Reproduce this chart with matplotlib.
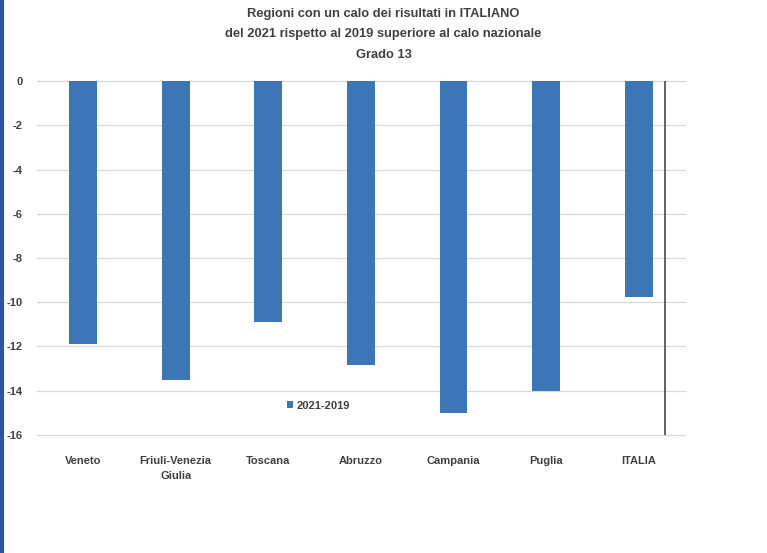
import matplotlib
matplotlib.use('Agg')
import matplotlib.pyplot as plt
from matplotlib.lines import Line2D

regions = ['Veneto', 'Friuli-Venezia\nGiulia', 'Toscana', 'Abruzzo', 'Campania', 'Puglia', 'ITALIA']
diff_2021_2019 = [-11.9, -13.5, -10.9, -12.85, -15.0, -14.0, -9.75]
yticks = [0, -2, -4, -6, -8, -10, -12, -14, -16]

plt.rcParams['font.family'] = ['Liberation Sans', 'DejaVu Sans']
txt = '#404040'

fig = plt.figure(figsize=(7.67, 5.53), dpi=100)
ax = fig.add_axes([0.048, 0.2134, 0.845, 0.6401])

x = list(range(len(regions)))
ax.bar(x, diff_2021_2019, width=0.3, color='#3e75b7', label='2021-2019', zorder=3)
ax.set_xlim(-0.5, len(regions) - 0.5)
ax.set_ylim(-16, 0)
ax.set_yticks(yticks)
ax.set_yticklabels([str(t) for t in yticks], fontsize=8, fontweight='bold', color=txt)
ax.set_xticks(x)
ax.set_xticklabels(regions, fontsize=8, fontweight='bold', color=txt, linespacing=1.6)
ax.tick_params(length=0)
ax.tick_params(axis='x', pad=15)
ax.tick_params(axis='y', pad=10)
ax.grid(axis='y', color='#d9d9d9', linewidth=0.9, zorder=0)
for gl in ax.get_ygridlines():
    gl.set_clip_on(False)
for s in ax.spines.values():
    s.set_visible(False)
ax.axvline(6.29, color='#555555', linewidth=1.3, zorder=4)

ax.legend(loc='lower left', bbox_to_anchor=(0.37, 0.04), frameon=False,
          handlelength=0.6, handleheight=0.6, handletextpad=0.3, prop={'weight': 'bold', 'size': 8},
          labelcolor=txt)

title_lines = ['Regioni con un calo dei risultati in ITALIANO',
               'del 2021 rispetto al 2019 superiore al calo nazionale',
               'Grado 13']
for yy, line in zip([0.975, 0.938, 0.900], title_lines):
    fig.text(0.5, yy, line, ha='center', va='center', fontsize=9.3, fontweight='bold', color=txt)

fig.add_artist(Line2D([0.002, 0.002], [0, 1], transform=fig.transFigure, color='#2f5597', linewidth=3))

fig.savefig('out.png', dpi=100)
